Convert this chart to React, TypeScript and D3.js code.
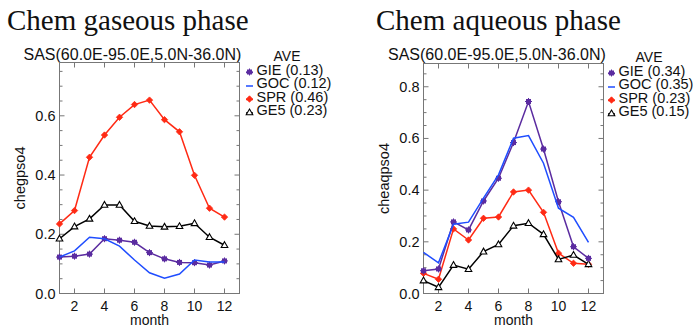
import React from "react";
import * as d3 from "d3";

// months on the x axis
const months = [1, 2, 3, 4, 5, 6, 7, 8, 9, 10, 11, 12];

// gaseous phase (chegpso4)
const gasGIE = [0.123, 0.126, 0.133, 0.185, 0.18, 0.173, 0.138, 0.117, 0.105, 0.104, 0.096, 0.11];
const gasGOC = [0.123, 0.144, 0.19, 0.185, 0.16, 0.113, 0.07, 0.052, 0.066, 0.113, 0.106, 0.106];
const gasSPR = [0.235, 0.28, 0.46, 0.535, 0.595, 0.638, 0.653, 0.587, 0.546, 0.399, 0.288, 0.258];
const gasGE5 = [0.185, 0.226, 0.252, 0.299, 0.299, 0.244, 0.228, 0.225, 0.227, 0.237, 0.19, 0.163];

// aqueous phase (cheaqpso4)
const aqGIE = [0.088, 0.095, 0.277, 0.246, 0.358, 0.446, 0.584, 0.743, 0.559, 0.355, 0.181, 0.136];
const aqGOC = [0.159, 0.119, 0.268, 0.276, 0.369, 0.459, 0.601, 0.611, 0.504, 0.33, 0.295, 0.198];
const aqSPR = [0.078, 0.055, 0.25, 0.207, 0.291, 0.296, 0.393, 0.4, 0.314, 0.156, 0.117, 0.113];
const aqGE5 = [0.05, 0.024, 0.11, 0.094, 0.162, 0.19, 0.262, 0.272, 0.229, 0.132, 0.149, 0.113];

const seriesNames = ["GIE", "GOC", "SPR", "GE5"];
const gasAve = ["0.13", "0.12", "0.46", "0.23"];
const aqAve = ["0.34", "0.35", "0.23", "0.15"];

const xTicks = [2, 4, 6, 8, 10, 12];
const gasYTicks = [0, 0.2, 0.4, 0.6];
const aqYTicks = [0, 0.2, 0.4, 0.6, 0.8];

const colors: Record<string, string> = {
    GIE: "#5b2ca0",
    GOC: "#1f4dff",
    SPR: "#ff2a14",
    GE5: "#000000",
};

const SANS = "'Liberation Sans', Arial, sans-serif";
const SERIF = "'Liberation Serif', 'DejaVu Serif', serif";

function Marker({ name, x, y }: { name: string; x: number; y: number }) {
    const c = colors[name];
    if (name === "GIE") {
        return (
            <g>
                <rect x={x - 2.5} y={y - 2.5} width={5} height={5} fill={c} />
                <path d={`M${x - 3.5},${y}H${x + 3.5}M${x},${y - 3.5}V${y + 3.5}`} stroke={c} strokeWidth={1} />
            </g>
        );
    }
    if (name === "SPR") {
        return <path d={`M${x},${y - 3.2}L${x + 3.2},${y}L${x},${y + 3.2}L${x - 3.2},${y}Z`} fill={c} stroke={c} strokeWidth={0.8} />;
    }
    if (name === "GE5") {
        return <path d={`M${x},${y - 3.5}L${x + 3.3},${y + 2.3}L${x - 3.3},${y + 2.3}Z`} fill="white" stroke={c} strokeWidth={1.1} />;
    }
    return null;
}

type PanelProps = {
    title: string;
    titleX: number;
    subX: number;
    subY: number;
    left: number;
    top: number;
    width: number;
    height: number;
    yMax: number;
    yTicks: number[];
    yLabel: string;
    series: number[][];
    ave: string[];
    legendX: number;
};

function Panel(p: PanelProps) {
    const x = d3.scaleLinear().domain([1, 13]).range([p.left, p.left + p.width]);
    const y = d3.scaleLinear().domain([0, p.yMax]).range([p.top + p.height, p.top]);
    const line = d3.line<number>()
        .x((_, i) => x(months[i]))
        .y(d => y(d));
    const minor = d3.range(0, p.yMax, 0.05).filter(v => !p.yTicks.some(t => Math.abs(t - v) < 1e-6));
    const bottom = p.top + p.height;
    const right = p.left + p.width;
    const order = [2, 3, 0, 1]; // draw order: SPR, GE5 under GIE/GOC
    return (
        <g>
            <text x={p.titleX} y={30} fontFamily={SERIF} fontSize={29} fill="#111">{p.title}</text>
            <text x={p.subX} y={p.subY} fontFamily={SANS} fontSize={16} fill="#111">SAS(60.0E-95.0E,5.0N-36.0N)</text>

            {/* frame */}
            <rect x={p.left} y={p.top} width={p.width} height={p.height} fill="none" stroke="#777" strokeWidth={1} />
            {xTicks.map(t => (
                <g key={"xt" + t}>
                    <line x1={x(t)} x2={x(t)} y1={bottom} y2={bottom - 5} stroke="#777" />
                    <line x1={x(t)} x2={x(t)} y1={p.top} y2={p.top + 5} stroke="#777" />
                    <text x={x(t)} y={bottom + 17} textAnchor="middle" fontFamily={SANS} fontSize={14} fill="#111">{t}</text>
                </g>
            ))}
            {p.yTicks.map(t => (
                <g key={"yt" + t}>
                    <line x1={p.left} x2={p.left + 5} y1={y(t)} y2={y(t)} stroke="#777" />
                    <line x1={right} x2={right - 5} y1={y(t)} y2={y(t)} stroke="#777" />
                    <text x={p.left - 4} y={y(t) + 5} textAnchor="end" fontFamily={SANS} fontSize={14.5} fill="#111">{d3.format(".1f")(t)}</text>
                </g>
            ))}
            {minor.map(t => (
                <g key={"ym" + t}>
                    <line x1={p.left} x2={p.left + 3} y1={y(t)} y2={y(t)} stroke="#777" />
                    <line x1={right} x2={right - 3} y1={y(t)} y2={y(t)} stroke="#777" />
                </g>
            ))}
            <text x={x(7)} y={bottom + 31.5} textAnchor="middle" fontFamily={SANS} fontSize={14} fill="#111">month</text>
            <text transform={`translate(${p.left - 35},${p.top + p.height / 2}) rotate(-90)`} textAnchor="middle" fontFamily={SANS} fontSize={14.5} fill="#111">{p.yLabel}</text>

            {/* series */}
            {order.map(i => {
                const name = seriesNames[i];
                return (
                    <g key={name}>
                        <path d={line(p.series[i]) || ""} fill="none" stroke={colors[name]} strokeWidth={1.5} />
                        {p.series[i].map((v, j) => (
                            <Marker key={j} name={name} x={x(months[j])} y={y(v)} />
                        ))}
                    </g>
                );
            })}

            {/* legend */}
            <text x={p.legendX + 41} y={p.top - 2} textAnchor="middle" fontFamily={SANS} fontSize={14} fill="#111">AVE</text>
            {seriesNames.map((name, i) => {
                const by = p.top + 12 + i * 13.5;
                return (
                    <g key={"lg" + name}>
                        <line x1={p.legendX} x2={p.legendX + 7} y1={by - 2} y2={by - 2} stroke={colors[name]} strokeWidth={1.5} />
                        <Marker name={name} x={p.legendX + 3.5} y={by - 2.5} />
                        <text x={p.legendX + 10.5} y={by} fontFamily={SANS} fontSize={14.5} fill="#111">{`${name} (${p.ave[i]})`}</text>
                    </g>
                );
            })}
        </g>
    );
}

export default function App() {
    return (
        <svg width={693} height={327} style={{ position: "absolute", left: 0, top: 0, background: "white" }}>
            <rect width={693} height={327} fill="white" />
            <Panel
                title="Chem gaseous phase" titleX={7} subX={23.5} subY={59.5}
                left={59.5} top={62.5} width={180} height={231} yMax={0.78}
                yTicks={gasYTicks} yLabel="chegpso4"
                series={[gasGIE, gasGOC, gasSPR, gasGE5]} ave={gasAve} legendX={246}
            />
            <Panel
                title="Chem aqueous phase" titleX={376} subX={388} subY={59.5}
                left={423.5} top={63.5} width={180} height={230} yMax={0.89}
                yTicks={aqYTicks} yLabel="cheaqpso4"
                series={[aqGIE, aqGOC, aqSPR, aqGE5]} ave={aqAve} legendX={608}
            />
        </svg>
    );
}
